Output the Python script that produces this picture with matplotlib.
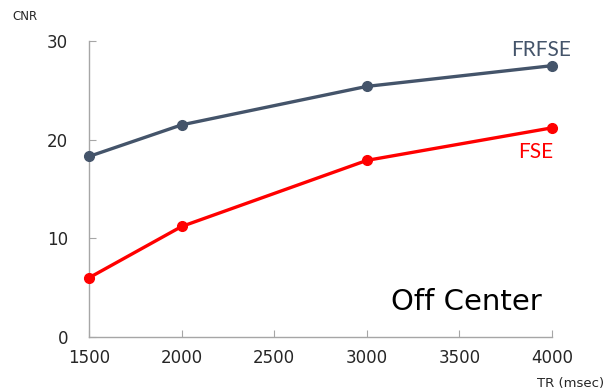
import matplotlib.pyplot as plt

# data
tr = [1500, 2000, 3000, 4000]
frfse = [18.3, 21.5, 25.4, 27.5]
fse = [6.0, 11.2, 17.9, 21.2]
xticks = [1500, 2000, 2500, 3000, 3500, 4000]
yticks = [0, 10, 20, 30]

navy = '#44546A'
red = '#FF0000'
grey = '#A6A6A6'

fig = plt.figure(figsize=(6.06, 3.89), dpi=100)
ax = fig.add_axes([0.1469, 0.1337, 0.7641, 0.7609])

ax.plot(tr, frfse, color=navy, lw=2.4, marker='o', ms=7, zorder=3, clip_on=False)
ax.plot(tr, fse, color=red, lw=2.4, marker='o', ms=7, zorder=3, clip_on=False)

ax.set_xlim(1500, 4000)
ax.set_ylim(0, 30)
ax.set_xticks(xticks)
ax.set_yticks(yticks)
ax.tick_params(axis='both', direction='in', length=5, color=grey,
               labelsize=12, labelcolor='#262626')
ax.tick_params(axis='x', pad=9)
ax.tick_params(axis='y', pad=15)
for s in ['top', 'right']:
    ax.spines[s].set_visible(False)
for s in ['left', 'bottom']:
    ax.spines[s].set_color(grey)
    ax.spines[s].set_linewidth(1)

ax.text(4103, 29.1, 'FRFSE', color=navy, fontsize=15, family='Lato',
        ha='right', va='center', clip_on=False)
ax.text(4005, 18.7, 'FSE', color=red, fontsize=15, family='Lato',
        ha='right', va='center', clip_on=False)
ax.text(3536, 3.5, 'Off Center', color='black', fontsize=21, ha='center', va='center')

fig.text(25 / 606, 1 - 17 / 389, 'CNR', fontsize=8.5, color='#262626', ha='center', va='center')
fig.text(537 / 606, 1 - 384 / 389, 'TR (msec)', fontsize=9.5, color='#262626', ha='left', va='center')

fig.savefig('out.png', dpi=100)
